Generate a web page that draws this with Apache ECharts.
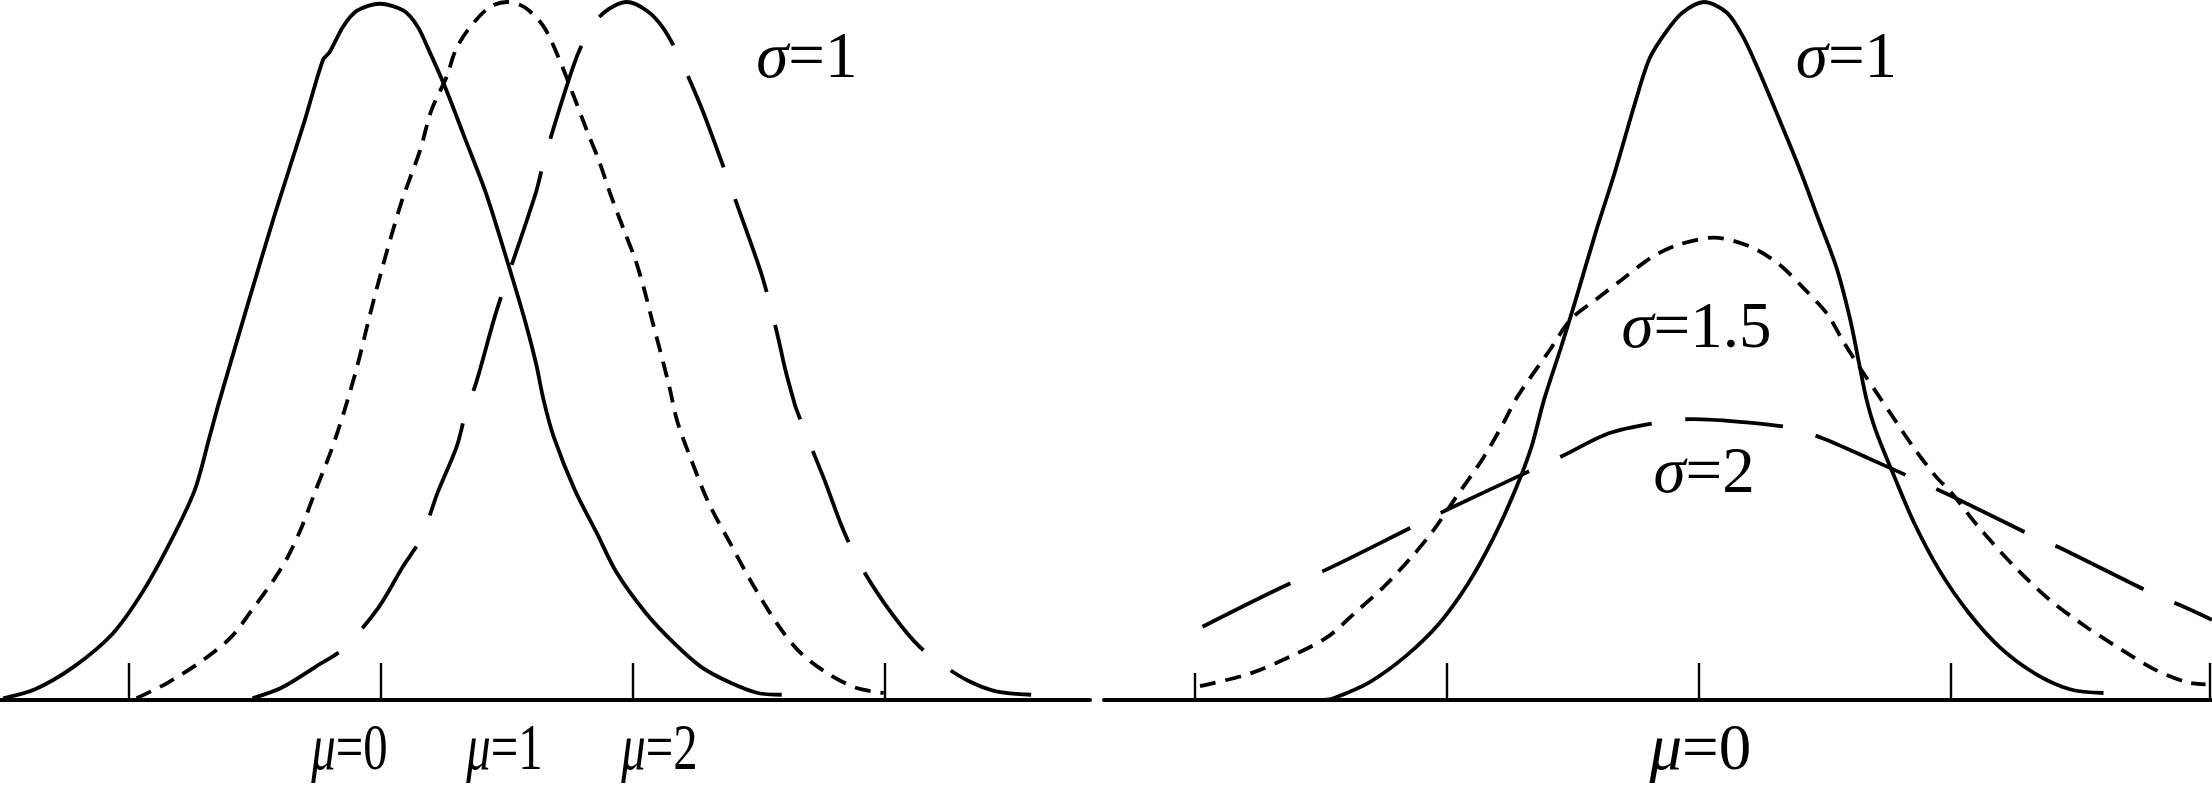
<!DOCTYPE html>
<html>
<head>
<meta charset="utf-8">
<script src="https://cdn.jsdelivr.net/npm/echarts@6/dist/echarts.min.js"></script>
<style>
  html, body { margin: 0; padding: 0; background: #fff; }
  #chart { width: 2212px; height: 790px; }
</style>
</head>
<body>
<div id="chart"></div>
<script>
// x in sigma units (mu=0 at 0), y = density
// left panel: sigma = 1, mu = 0 / 1 / 2
const mu0Curve = [
  [-3.00, 0.001], [-2.75, 0.006], [-2.44, 0.019], [-2.13, 0.038], [-1.90, 0.061],
  [-1.69, 0.088], [-1.48, 0.120], [-1.36, 0.151], [-1.28, 0.172], [-1.04, 0.231],
  [-0.84, 0.279], [-0.61, 0.331], [-0.46, 0.367], [-0.41, 0.371], [-0.30, 0.386],
  [-0.19, 0.395], [-0.01, 0.399], [0.18, 0.395], [0.29, 0.386], [0.37, 0.374],
  [0.51, 0.351], [0.66, 0.323], [0.83, 0.291], [1.00, 0.252], [1.14, 0.218],
  [1.23, 0.193], [1.29, 0.172], [1.37, 0.151], [1.54, 0.120], [1.71, 0.096],
  [1.87, 0.073], [2.10, 0.050], [2.32, 0.033], [2.54, 0.019], [2.77, 0.010],
  [2.99, 0.004], [3.18, 0.003]
];
const mu1Curve = [
  [-1.94, 0.001], [-1.69, 0.010], [-1.41, 0.023], [-1.19, 0.036], [-1.02, 0.052],
  [-0.85, 0.069], [-0.74, 0.082], [-0.63, 0.099], [-0.52, 0.120], [-0.40, 0.142],
  [-0.29, 0.166], [-0.19, 0.191], [-0.08, 0.223], [0.05, 0.258], [0.17, 0.287],
  [0.31, 0.315], [0.40, 0.338], [0.52, 0.357], [0.59, 0.372], [0.69, 0.384],
  [0.86, 0.397], [1.00, 0.400], [1.14, 0.397], [1.29, 0.386], [1.41, 0.368],
  [1.53, 0.346], [1.63, 0.327], [1.73, 0.309], [1.83, 0.288], [1.93, 0.269],
  [2.02, 0.252], [2.09, 0.235], [2.15, 0.218], [2.22, 0.199], [2.29, 0.179],
  [2.35, 0.160], [2.46, 0.138], [2.60, 0.113], [2.77, 0.090], [2.96, 0.065],
  [3.16, 0.042], [3.33, 0.027], [3.55, 0.015], [3.77, 0.007], [3.99, 0.004]
];
const mu2Curve = [
  [-1.02, 0.001], [-0.79, 0.007], [-0.52, 0.019], [-0.29, 0.030], [-0.02, 0.053],
  [0.17, 0.076], [0.32, 0.093], [0.45, 0.119], [0.60, 0.145], [0.67, 0.164],
  [0.76, 0.183], [0.90, 0.219], [0.98, 0.237], [1.23, 0.291], [1.30, 0.311],
  [1.53, 0.364], [1.64, 0.382], [1.77, 0.394], [1.95, 0.400], [2.11, 0.395],
  [2.24, 0.385], [2.37, 0.368], [2.54, 0.340], [2.67, 0.315], [2.76, 0.297],
  [2.89, 0.271], [3.02, 0.244], [3.10, 0.223], [3.16, 0.205], [3.21, 0.189],
  [3.27, 0.173], [3.29, 0.168], [3.38, 0.151], [3.52, 0.126], [3.66, 0.099],
  [3.79, 0.079], [3.99, 0.056], [4.24, 0.033], [4.44, 0.021], [4.66, 0.011],
  [4.88, 0.005], [5.16, 0.003]
];

// right panel: mu = 0, sigma = 1 / 1.5 / 2
const sigma1Curve = [
  [-2.98, 0.000], [-2.90, 0.001], [-2.62, 0.010], [-2.33, 0.025], [-2.06, 0.044],
  [-1.83, 0.067], [-1.63, 0.093], [-1.46, 0.120], [-1.33, 0.145], [-1.23, 0.172],
  [-1.10, 0.201], [-0.98, 0.229], [-0.82, 0.268], [-0.67, 0.302], [-0.50, 0.344],
  [-0.39, 0.368], [-0.25, 0.384], [-0.13, 0.394], [0.04, 0.400], [0.22, 0.394],
  [0.35, 0.380], [0.46, 0.363], [0.63, 0.334], [0.80, 0.304], [0.94, 0.277],
  [1.09, 0.248], [1.20, 0.218], [1.27, 0.193], [1.33, 0.172], [1.40, 0.155],
  [1.55, 0.128], [1.71, 0.101], [1.91, 0.074], [2.14, 0.050], [2.39, 0.030],
  [2.67, 0.015], [2.95, 0.006], [3.21, 0.004]
];
const sigma15Curve = [
  [-3.96, 0.008], [-3.57, 0.015], [-3.24, 0.025], [-2.95, 0.036], [-2.73, 0.050],
  [-2.50, 0.065], [-2.28, 0.082], [-2.11, 0.097], [-1.94, 0.115], [-1.71, 0.139],
  [-1.55, 0.159], [-1.44, 0.174], [-1.18, 0.201], [-1.02, 0.218], [-0.81, 0.230],
  [-0.61, 0.241], [-0.37, 0.254], [-0.16, 0.261], [0.12, 0.265], [0.40, 0.260],
  [0.63, 0.250], [0.83, 0.236], [1.02, 0.221], [1.14, 0.206], [1.28, 0.190],
  [1.41, 0.176], [1.54, 0.162], [1.70, 0.145], [1.88, 0.128], [2.00, 0.119],
  [2.22, 0.099], [2.51, 0.076], [2.79, 0.057], [3.07, 0.042], [3.35, 0.029],
  [3.63, 0.017], [3.88, 0.010], [4.02, 0.009]
];
const sigma2Curve = [
  [-3.94, 0.042], [-3.24, 0.067], [-2.98, 0.074], [-2.28, 0.099], [-2.00, 0.109],
  [-1.38, 0.130], [-1.08, 0.140], [-0.71, 0.153], [-0.33, 0.159], [-0.06, 0.161],
  [0.40, 0.159], [0.72, 0.156], [0.98, 0.150], [1.33, 0.139], [1.70, 0.127],
  [2.00, 0.117], [2.62, 0.095], [2.90, 0.086], [3.57, 0.062], [3.86, 0.053],
  [4.07, 0.046]
];

const leftTicks = [-2, 0, 2, 4];
const rightTicks = [-2, 0, 2, 4.05];
const rightShortTicks = [-4];

// text, panel, x, y (data units, y = middle of the digits), horizontal squeeze
const annotations = [
  ['{g|μ}{n|=0}', 0, -0.25, -0.030, 0.75],
  ['{g|μ}{n|=1}', 0, 0.98, -0.030, 0.75],
  ['{g|μ}{n|=2}', 0, 2.21, -0.030, 0.75],
  ['{g|σ}{n|=1}', 0, 3.38, 0.367, 1],
  ['{g|σ}{n|=1}', 1, 1.17, 0.367, 1],
  ['{g|σ}{n|=1.5}', 1, -0.02, 0.212, 1],
  ['{g|σ}{n|=2}', 1, 0.04, 0.129, 1],
  ['{g|μ}{n|=0}', 1, 0.01, -0.030, 1]
];

const FONT = '"Liberation Serif", "Times New Roman", serif';
const shortDash = [16, 10];
const longDash = [98, 34];

const chart = echarts.init(document.getElementById('chart'));

const baseX = (grid, min, max, ticks, len, lineShow) => ({
  type: 'value',
  gridIndex: grid,
  position: 'bottom',
  min: min,
  max: max,
  splitLine: { show: false },
  axisLine: { show: lineShow, onZero: false, lineStyle: { color: '#000', width: 4 } },
  axisTick: {
    show: true,
    inside: true,
    length: len,
    customValues: ticks,
    lineStyle: { color: '#000', width: 2.4 }
  },
  axisLabel: { show: false }
});

const curve = (data, grid, dash) => ({
  type: 'line',
  xAxisIndex: grid === 0 ? 0 : 1,
  yAxisIndex: grid,
  data: data,
  symbol: 'none',
  smooth: 0.3,
  clip: false,
  silent: true,
  lineStyle: { color: '#000', width: 3.8, type: dash, cap: 'butt' }
});

chart.setOption({
  animation: false,
  backgroundColor: '#fff',
  grid: [
    { left: 0, top: 2, width: 1090, height: 698 },
    { left: 1104, top: 2, width: 1108, height: 698 }
  ],
  xAxis: [
    baseX(0, -3.024, 5.627, leftTicks, 37, true),
    baseX(1, -4.722, 4.071, rightTicks, 37, true),
    baseX(1, -4.722, 4.071, rightShortTicks, 27, false)
  ],
  yAxis: [
    { type: 'value', gridIndex: 0, min: 0, max: 0.4, show: false },
    { type: 'value', gridIndex: 1, min: 0, max: 0.4, show: false }
  ],
  series: [
    curve(mu0Curve, 0, 'solid'),
    curve(mu1Curve, 0, shortDash),
    curve(mu2Curve, 0, longDash),
    curve(sigma1Curve, 1, 'solid'),
    curve(sigma15Curve, 1, shortDash),
    curve(sigma2Curve, 1, longDash)
  ]
});

// labels placed through the grids' own scales
const graphics = annotations.map(a => {
  const p = chart.convertToPixel({ xAxisIndex: a[1] === 0 ? 0 : 1, yAxisIndex: a[1] }, [a[2], a[3]]);
  return {
    type: 'text',
    x: p[0],
    y: p[1],
    scaleX: a[4],
    silent: true,
    style: {
      text: a[0],
      align: 'center',
      verticalAlign: 'middle',
      fill: '#000',
      rich: {
        g: { fontFamily: FONT, fontSize: 65, fontStyle: 'italic', fill: '#000' },
        n: { fontFamily: FONT, fontSize: 65, fill: '#000' }
      }
    }
  };
});
chart.setOption({ graphic: graphics });
</script>
</body>
</html>
